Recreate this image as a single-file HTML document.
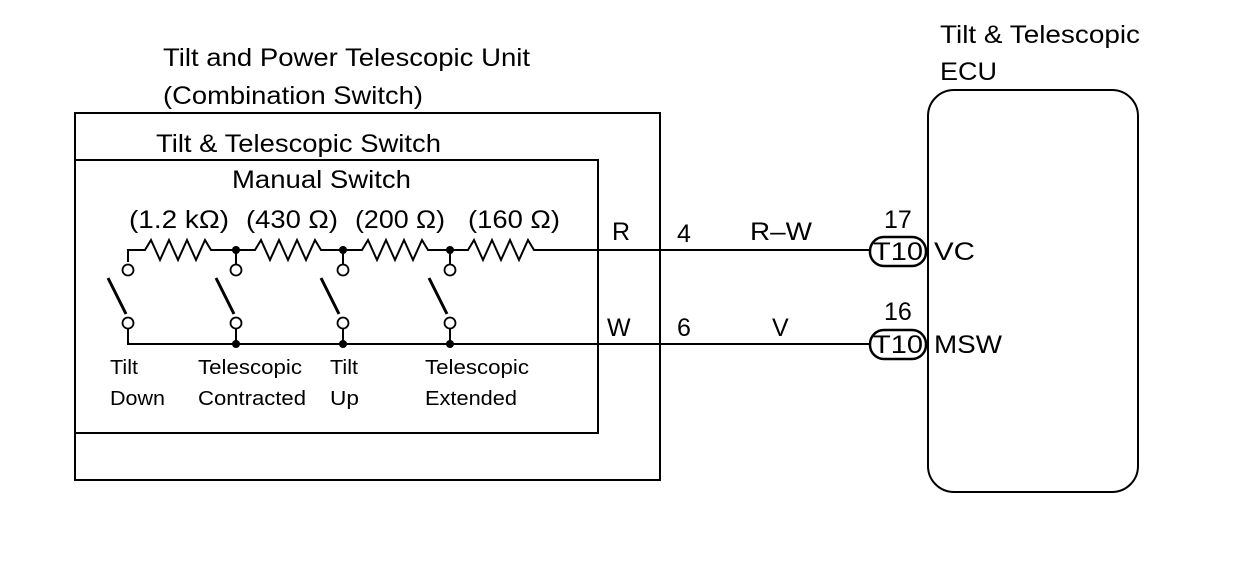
<!DOCTYPE html>
<html><head><style>
html,body{margin:0;padding:0;background:#fff;}
svg text{font-family:"Liberation Sans",Arial,sans-serif;fill:#000;}
</style></head><body>
<svg width="1248" height="560" viewBox="0 0 1248 560" xmlns="http://www.w3.org/2000/svg">
<g fill="none" stroke="#000" stroke-width="2">
<rect x="75" y="113" width="585" height="367"/>
<rect x="75" y="160" width="523" height="273"/>
<rect x="928" y="90" width="210" height="402" rx="26" ry="26"/>
<path d="M128,262 V250 H145 l6,-10 l9,20 l9,-20 l9,20 l9,-20 l9,20 l9,-20 l6,10 H255 l6,-10 l9,20 l9,-20 l9,20 l9,-20 l9,20 l9,-20 l6,10 H362 l6,-10 l9,20 l9,-20 l9,20 l9,-20 l9,20 l9,-20 l6,10 H468 l6,-10 l9,20 l9,-20 l9,20 l9,-20 l9,20 l9,-20 l6,10 H872"/>
<path d="M236,250 V265 M343,250 V265 M450,250 V265"/>
<path d="M128,328 V344 H872 M236,328 V344 M343,328 V344 M450,328 V344"/>
<g stroke-width="3">
<path d="M108,278 L126,314 M216,278 L234,314 M321,278 L339,314 M429,278 L447,314"/>
</g>
<g fill="#fff" stroke-width="1.8">
<circle cx="128" cy="270" r="5.5"/><circle cx="236" cy="270" r="5.5"/><circle cx="343" cy="270" r="5.5"/><circle cx="450" cy="270" r="5.5"/>
<circle cx="128" cy="323" r="5.5"/><circle cx="236" cy="323" r="5.5"/><circle cx="343" cy="323" r="5.5"/><circle cx="450" cy="323" r="5.5"/>
</g>
<rect x="870" y="237" width="56" height="29" rx="14" stroke-width="2.5" fill="#fff"/>
<rect x="870" y="330" width="56" height="29" rx="14" stroke-width="2.5" fill="#fff"/>
</g>
<g fill="#000">
<circle cx="236" cy="250" r="4"/><circle cx="343" cy="250" r="4"/><circle cx="450" cy="250" r="4"/>
<circle cx="236" cy="344" r="4"/><circle cx="343" cy="344" r="4"/><circle cx="450" cy="344" r="4"/>
</g>
<g font-size="25" lengthAdjust="spacingAndGlyphs">
<text x="163" y="66" textLength="367" lengthAdjust="spacingAndGlyphs">Tilt and Power Telescopic Unit</text>
<text x="163" y="104" textLength="260" lengthAdjust="spacingAndGlyphs">(Combination Switch)</text>
<text x="156" y="152" textLength="285" lengthAdjust="spacingAndGlyphs">Tilt &amp; Telescopic Switch</text>
<text x="232" y="188" textLength="179" lengthAdjust="spacingAndGlyphs">Manual Switch</text>
<text x="129" y="228" textLength="100" lengthAdjust="spacingAndGlyphs">(1.2 kΩ)</text>
<text x="246" y="228" textLength="92" lengthAdjust="spacingAndGlyphs">(430 Ω)</text>
<text x="355" y="228" textLength="90" lengthAdjust="spacingAndGlyphs">(200 Ω)</text>
<text x="468" y="228" textLength="92" lengthAdjust="spacingAndGlyphs">(160 Ω)</text>
<text x="612" y="240">R</text>
<text x="677" y="242">4</text>
<text x="750" y="240" textLength="62" lengthAdjust="spacingAndGlyphs">R–W</text>
<text x="607" y="336">W</text>
<text x="677" y="336">6</text>
<text x="772" y="336">V</text>
<text x="884" y="228">17</text>
<text x="884" y="320">16</text>
<text x="873" y="260" textLength="50" lengthAdjust="spacingAndGlyphs">T10</text>
<text x="873" y="353" textLength="50" lengthAdjust="spacingAndGlyphs">T10</text>
<text x="934" y="260" textLength="41" lengthAdjust="spacingAndGlyphs">VC</text>
<text x="934" y="353" textLength="68" lengthAdjust="spacingAndGlyphs">MSW</text>
<text x="940" y="43" textLength="200" lengthAdjust="spacingAndGlyphs">Tilt &amp; Telescopic</text>
<text x="940" y="80" textLength="57" lengthAdjust="spacingAndGlyphs">ECU</text>
</g>
<g font-size="20">
<text x="110" y="374" textLength="28" lengthAdjust="spacingAndGlyphs">Tilt</text>
<text x="110" y="405" textLength="55" lengthAdjust="spacingAndGlyphs">Down</text>
<text x="198" y="374" textLength="104" lengthAdjust="spacingAndGlyphs">Telescopic</text>
<text x="198" y="405" textLength="108" lengthAdjust="spacingAndGlyphs">Contracted</text>
<text x="330" y="374" textLength="28" lengthAdjust="spacingAndGlyphs">Tilt</text>
<text x="330" y="405" textLength="29" lengthAdjust="spacingAndGlyphs">Up</text>
<text x="425" y="374" textLength="104" lengthAdjust="spacingAndGlyphs">Telescopic</text>
<text x="425" y="405" textLength="92" lengthAdjust="spacingAndGlyphs">Extended</text>
</g>
</svg>
</body></html>
